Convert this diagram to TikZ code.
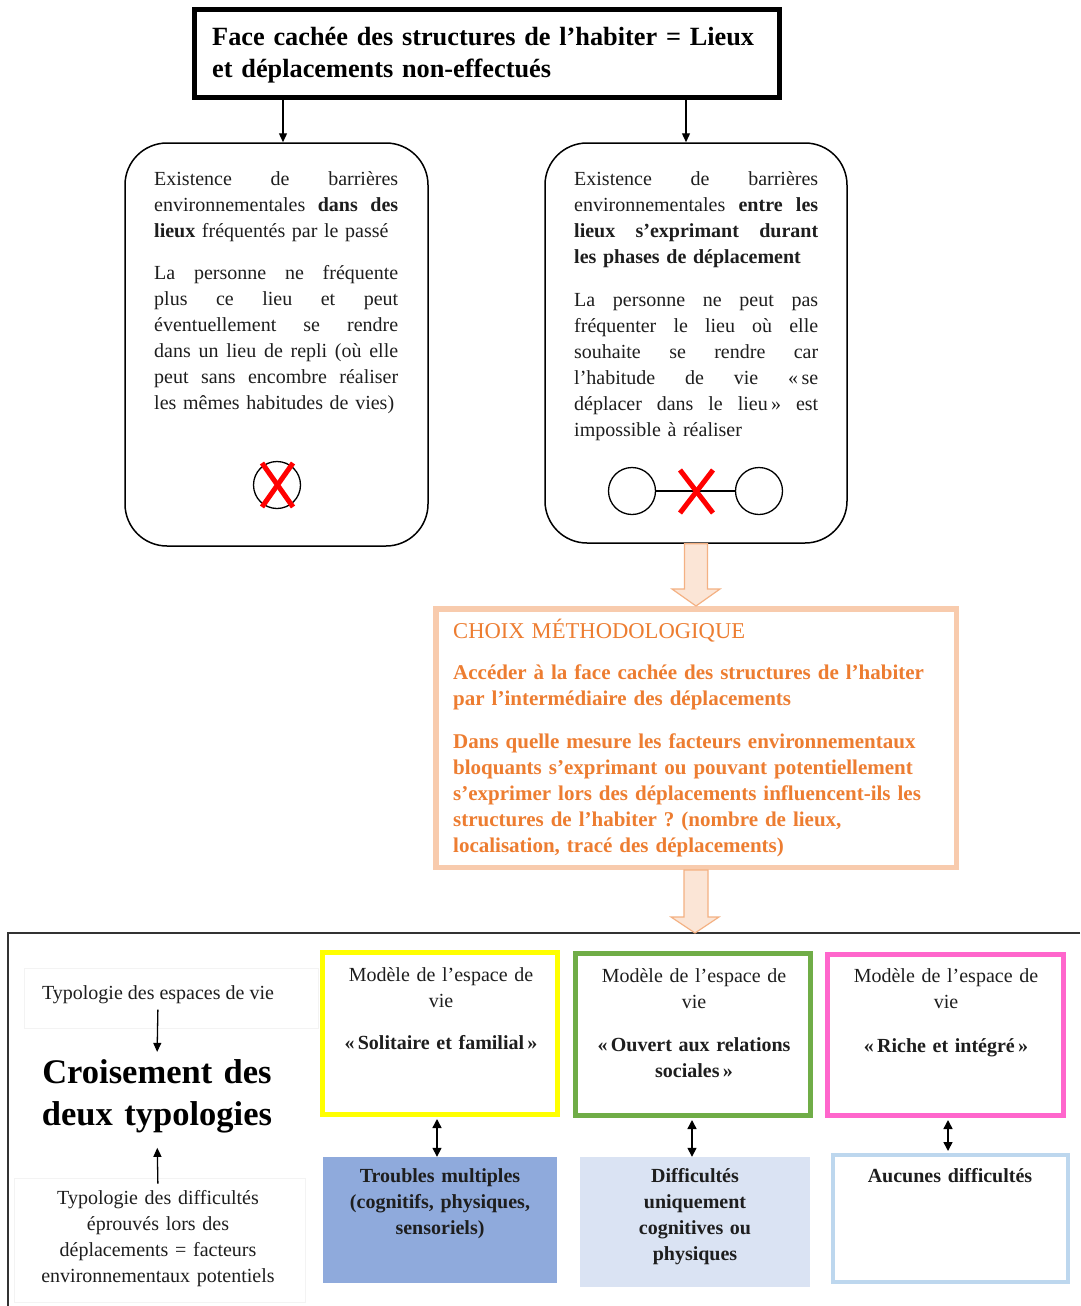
\documentclass[tikz,border=0pt]{standalone}
\usepackage{fontspec}
\setmainfont{Liberation Serif}
\usetikzlibrary{arrows.meta,calc}
\definecolor{txt}{HTML}{1E1E1E}
\definecolor{orangetxt}{HTML}{ED7D31}
\definecolor{orangeline}{HTML}{F8CBAD}
\definecolor{peachfill}{HTML}{FBE5D6}
\definecolor{peachline}{HTML}{F4B183}
\definecolor{yel}{HTML}{FFFF00}
\definecolor{grn}{HTML}{70AD47}
\definecolor{pnk}{HTML}{FF66CC}
\definecolor{bluedark}{HTML}{8FAADC}
\definecolor{bluelight}{HTML}{DAE3F3}
\definecolor{blueline}{HTML}{BDD7EE}
\definecolor{faint}{HTML}{F3F3F3}
\newlength\jw
\setlength\jw{244pt}
\newcommand\jl[1]{\makebox[\jw][s]{\spaceskip=0pt\relax\xspaceskip=0pt\relax #1}}
\frenchspacing
\begin{document}
\begin{tikzpicture}[x=1pt,y=-1pt,
  body/.style={font=\fontsize{20}{26}\selectfont, text=txt, inner sep=0},
  jbox/.style={body, text width=244pt, align=left, anchor=base west},
  typtxt/.style={body, text width=232pt, align=center, anchor=base},
  rbox/.style={draw, line width=1.5pt, rounded corners=42pt, inner sep=0},
  arr/.style={-{Triangle[length=9pt,width=8pt]}, line width=1.3pt},
  dbl/.style={{Triangle[length=9pt,width=9pt]}-{Triangle[length=9pt,width=9pt]}, line width=1.5pt},
  redx/.style={draw=red, line width=5pt},
  peach/.style={fill=peachfill, draw=peachline, line width=1.2pt},
  modelbox/.style={draw, line width=5pt, inner sep=0},
]
\useasboundingbox (0,0) rectangle (1080,1306);
\fill[white] (0,0) rectangle (1080,1306);

% ---------- top box ----------
\node[draw, line width=5pt, minimum width=585pt, minimum height=88pt, inner sep=0] (top) at (487,53.5) {};
\node[font=\fontsize{26.3}{32}\selectfont\bfseries, text=black, inner sep=0, text width=560pt, align=left, anchor=base west] (toptxt) at (212,45.5)
  {Face cachée des structures de l’habiter = Lieux\\ et déplacements non-effectués};

% ---------- rounded boxes ----------
\node[rbox, minimum width=303pt, minimum height=403pt] (lbox) at (276.5,344.5) {};
\node[rbox, minimum width=302pt, minimum height=400pt] (rbox) at (696,343) {};

\draw[arr] (top.south -| 283,0) -- (lbox.north -| 283,0);
\draw[arr] (top.south -| 686,0) -- (rbox.north -| 686,0);

\node[jbox] (ltxt) at (154,185) {%
\jl{Existence de barrières}\\
\jl{environnementales \textbf{dans des}}\\
\textbf{lieux} fréquentés par le passé\\[16pt]
\jl{La personne ne fréquente}\\
\jl{plus ce lieu et peut}\\
\jl{éventuellement se rendre}\\
\jl{dans un lieu de repli (où elle}\\
\jl{peut sans encombre réaliser}\\
les mêmes habitudes de vies)};

\node[jbox] (rtxt) at (574,185) {%
\jl{Existence de barrières}\\
\jl{environnementales \textbf{entre les}}\\
\jl{\textbf{lieux s’exprimant durant}}\\
\textbf{les phases de déplacement}\\[17pt]
\jl{La personne ne peut pas}\\
\jl{fréquenter le lieu où elle}\\
\jl{souhaite se rendre car}\\
\jl{l’habitude de vie «\,se}\\
\jl{déplacer dans le lieu\,» est}\\
impossible à réaliser};

% left icon
\node[draw, circle, minimum size=47pt, inner sep=0, line width=1.3pt] (lc) at (277,485) {};
\draw[redx] (262,463) -- (293,507);
\draw[redx] (293,463) -- (262,507);

% right icon
\node[draw, circle, minimum size=47pt, inner sep=0, line width=1.3pt] (c1) at (632,491) {};
\node[draw, circle, minimum size=47pt, inner sep=0, line width=1.3pt] (c2) at (759,491) {};
\draw[line width=1.3pt] (c1) -- (c2);
\draw[redx] (680,470) -- (713,513);
\draw[redx] (713,470) -- (680,513);

% ---------- methodological box ----------
\node[draw=orangeline, line width=5.5pt, minimum width=520.5pt, minimum height=258.5pt, inner sep=0] (orange) at (696,738) {};
\draw[peach] ([xshift=-11.5pt]rbox.south) |- ([xshift=-24pt,yshift=17pt]orange.north) -- (orange.north)
  -- ([xshift=24pt,yshift=17pt]orange.north) -| ([xshift=11.5pt]rbox.south) -- cycle;

\node[font=\fontsize{21}{26}\selectfont, text=orangetxt, inner sep=0, text width=490pt, align=left, anchor=base west] (otxt) at (453,638) {%
{\fontsize{22.6}{26}\selectfont CHOIX MÉTHODOLOGIQUE}\\[15pt]
\textbf{Accéder à la face cachée des structures de l’habiter}\\
\textbf{par l’intermédiaire des déplacements}\\[17pt]
\textbf{Dans quelle mesure les facteurs environnementaux}\\
\textbf{bloquants s’exprimant ou pouvant potentiellement}\\
\textbf{s’exprimer lors des déplacements influencent-ils les}\\
\textbf{structures de l’habiter ? (nombre de lieux,}\\
\textbf{localisation, tracé des déplacements)}};

% ---------- bottom frame ----------
\coordinate (frametop) at (695,933);
\draw[line width=1.5pt, draw=black!80] (1080,933) -- (8,933) -- (8,1306);
\draw[peach] ([xshift=-12pt]orange.south) |- ([xshift=-24pt,yshift=16pt]frametop) -- (frametop)
  -- ([xshift=24pt,yshift=16pt]frametop) -| ([xshift=12pt]orange.south) -- cycle;

% faint boxes
\draw[faint, line width=1pt] (24,968) rectangle (318,1028);
\draw[faint, line width=1pt] (14,1178) rectangle (305,1302);

% left column
\node[body, anchor=base] (typ1) at (158,999) {Typologie des espaces de vie};
\node[font=\fontsize{34.5}{42}\selectfont\bfseries, text=black, inner sep=0, text width=300pt, align=center, anchor=base] (crois) at (157,1083) {Croisement des\\ deux typologies};
\node[body, text width=290pt, align=center, anchor=base] (typ2) at (158,1204) {Typologie des difficultés\\ éprouvés lors des\\ déplacements = facteurs\\ environnementaux potentiels};
\draw[arr, shorten <=6pt, shorten >=7pt] (typ1.south) -- (crois.north);
\draw[arr, shorten <=6pt, shorten >=15pt] (typ2.north) -- (crois.south);

% model boxes
\node[modelbox, draw=yel, minimum width=235pt, minimum height=162pt] (ybox) at (440,1033.5) {};
\node[modelbox, draw=grn, minimum width=235pt, minimum height=162pt] (gbox) at (693,1034.5) {};
\node[modelbox, draw=pnk, minimum width=236pt, minimum height=161pt] (pbox) at (945.5,1035) {};

\node[typtxt] (ytxt) at (441,981) {Modèle de l’espace de\\ vie\\[16pt] \textbf{«\,Solitaire et familial\,»}};
\node[typtxt] (gtxt) at (694,982) {Modèle de l’espace de\\ vie\\[17pt] \textbf{«\,Ouvert aux relations}\\ \textbf{sociales\,»}};
\node[typtxt] (ptxt) at (946,982) {Modèle de l’espace de\\ vie\\[18pt] \textbf{«\,Riche et intégré\,»}};

% difficulty boxes
\node[fill=bluedark, minimum width=234pt, minimum height=126pt, inner sep=0] (b1) at (440,1220) {};
\node[fill=bluelight, minimum width=230pt, minimum height=130pt, inner sep=0] (b2) at (695,1222) {};
\node[draw=blueline, line width=4pt, fill=white, minimum width=235pt, minimum height=127pt, inner sep=0] (b3) at (950.5,1218.5) {};

\node[typtxt, font=\fontsize{20}{26}\selectfont\bfseries] (b1txt) at (440,1182) {Troubles multiples\\ (cognitifs, physiques,\\ sensoriels)};
\node[typtxt, font=\fontsize{20}{26}\selectfont\bfseries] (b2txt) at (695,1182) {Difficultés\\ uniquement\\ cognitives ou\\ physiques};
\node[typtxt, font=\fontsize{20}{26}\selectfont\bfseries] (b3txt) at (950,1182) {Aucunes difficultés};

\draw[dbl, shorten <=2pt] (ybox.south -| 437,0) -- (b1.north -| 437,0);
\draw[dbl, shorten <=2pt] (gbox.south -| 692,0) -- (b2.north -| 692,0);
\draw[dbl, shorten <=2pt, shorten >=2pt] (pbox.south -| 948,0) -- (b3.north -| 948,0);
\end{tikzpicture}
\end{document}
